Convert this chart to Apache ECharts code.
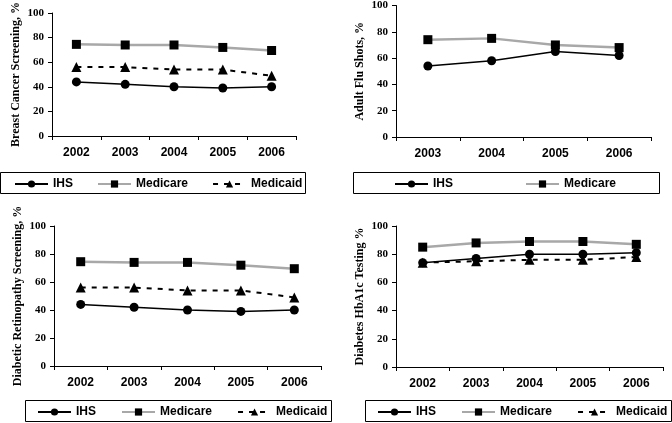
<!DOCTYPE html>
<html><head><meta charset="utf-8">
<script src="https://cdn.jsdelivr.net/npm/echarts@6/dist/echarts.min.js"></script>
<style>html,body{margin:0;padding:0;background:#fff}#c{width:672px;height:423px}</style>
</head><body><div id="c"></div>
<script>
var yearsA = ['2002','2003','2004','2005','2006'];
var yearsB = ['2003','2004','2005','2006'];
var yTicks = [0,20,40,60,80,100];

// Panel 1: Breast Cancer Screening
var bcIHS = [44, 42, 40, 39, 40];
var bcMedicare = [74.5, 74, 74, 72, 69.5];
var bcMedicaid = [56, 56, 54, 54, 49];
// Panel 2: Adult Flu Shots
var fluIHS = [54, 58, 65, 62];
var fluMedicare = [74, 75, 70, 68];
// Panel 3: Diabetic Retinopathy Screening
var drIHS = [44, 42, 40, 39, 40];
var drMedicare = [74.5, 74, 74, 72, 69.5];
var drMedicaid = [56, 56, 54, 54, 49];
// Panel 4: Diabetes HbA1c Testing
var hbIHS = [74, 77, 80, 80, 81];
var hbMedicare = [85, 88, 89, 89, 87];
var hbMedicaid = [74, 75, 76, 76, 78];

var titles = ['Breast Cancer Screening, %', 'Adult Flu Shots, %', 'Diabetic Retinopathy Screening, %', 'Diabetes HbA1c Testing %'];

var grids = [
  {left: 52, top: 13, width: 244, height: 123},
  {left: 396, top: 4, width: 255, height: 133},
  {left: 54, top: 226, width: 267, height: 140},
  {left: 396, top: 226, width: 267, height: 141}
];

function xAxis(i, data){
  return {type:'category', gridIndex:i, data:data, boundaryGap:true,
    axisLine:{lineStyle:{color:'#000', width:1}},
    axisTick:{show:true, inside:false, length:4, lineStyle:{color:'#000'}},
    axisLabel:{color:'#000', fontFamily:'Liberation Sans', fontWeight:'bold', fontSize:12, margin:11}
  };
}
function yAxis(i, name){
  return {type:'value', gridIndex:i, min:yTicks[0], max:yTicks[yTicks.length-1], interval:20,
    name:name, nameLocation:'middle', nameGap:30, nameRotate:90,
    nameTextStyle:{color:'#000', fontFamily:'Liberation Serif', fontWeight:'bold', fontSize:12},
    axisLine:{show:true, lineStyle:{color:'#000', width:1}},
    axisTick:{show:true, inside:false, length:4, lineStyle:{color:'#000'}},
    splitLine:{show:false},
    axisLabel:{color:'#000', fontFamily:'Liberation Serif', fontWeight:'bold', fontSize:11, margin:8}
  };
}
function ihs(i, d){ return {name:'IHS', type:'line', xAxisIndex:i, yAxisIndex:i, data:d, symbol:'circle', symbolSize:9,
  itemStyle:{color:'#000'}, lineStyle:{color:'#000', width:1.5}, z:4}; }
function med(i, d){ return {name:'Medicare', type:'line', xAxisIndex:i, yAxisIndex:i, data:d, symbol:'rect', symbolSize:9,
  itemStyle:{color:'#000'}, lineStyle:{color:'#a8a8a8', width:2.5}, z:3}; }
function mcd(i, d){ return {name:'Medicaid', type:'line', xAxisIndex:i, yAxisIndex:i, data:d, symbol:'triangle', symbolSize:10,
  itemStyle:{color:'#000'}, lineStyle:{color:'#000', width:2, type:[5,6]}, z:5}; }

var legText = {color:'#000', fontFamily:'Liberation Sans', fontWeight:'bold', fontSize:12};
function legend(left, top, data, gap){
  return {left:left, top:top, data:data, itemGap:gap, itemWidth:33, itemHeight:9, orient:'horizontal',
    textStyle:legText, selectedMode:false, padding:0};
}

function box(x, y, w, h){
  return {type:'rect', shape:{x:x+0.5, y:y+0.5, width:w, height:h}, style:{fill:'none', stroke:'#000', lineWidth:1}, silent:true, z:100};
}

var chart = echarts.init(document.getElementById('c'), null, {renderer:'canvas'});
chart.setOption({
  animation:false,
  backgroundColor:'#fff',
  grid: grids,
  xAxis:[xAxis(0, yearsA), xAxis(1, yearsB), xAxis(2, yearsA), xAxis(3, yearsA)],
  yAxis:[yAxis(0, titles[0]), yAxis(1, titles[1]), yAxis(2, titles[2]), yAxis(3, titles[3])],
  legend:[
    legend(14, 178, ['IHS','Medicare','Medicaid'], 24),
    legend(394, 178, ['IHS','Medicare'], 72),
    legend(37, 406, ['IHS','Medicare','Medicaid'], 25),
    legend(377, 406, ['IHS','Medicare','Medicaid'], 25)
  ],
  graphic:[box(0,172,305,21), box(353,172,306,21), box(25,400,306,21), box(365,400,306,21)],
  series:[
    ihs(0,bcIHS), med(0,bcMedicare), mcd(0,bcMedicaid),
    ihs(1,fluIHS), med(1,fluMedicare),
    ihs(2,drIHS), med(2,drMedicare), mcd(2,drMedicaid),
    ihs(3,hbIHS), med(3,hbMedicare), mcd(3,hbMedicaid)
  ]
});
</script></body></html>
